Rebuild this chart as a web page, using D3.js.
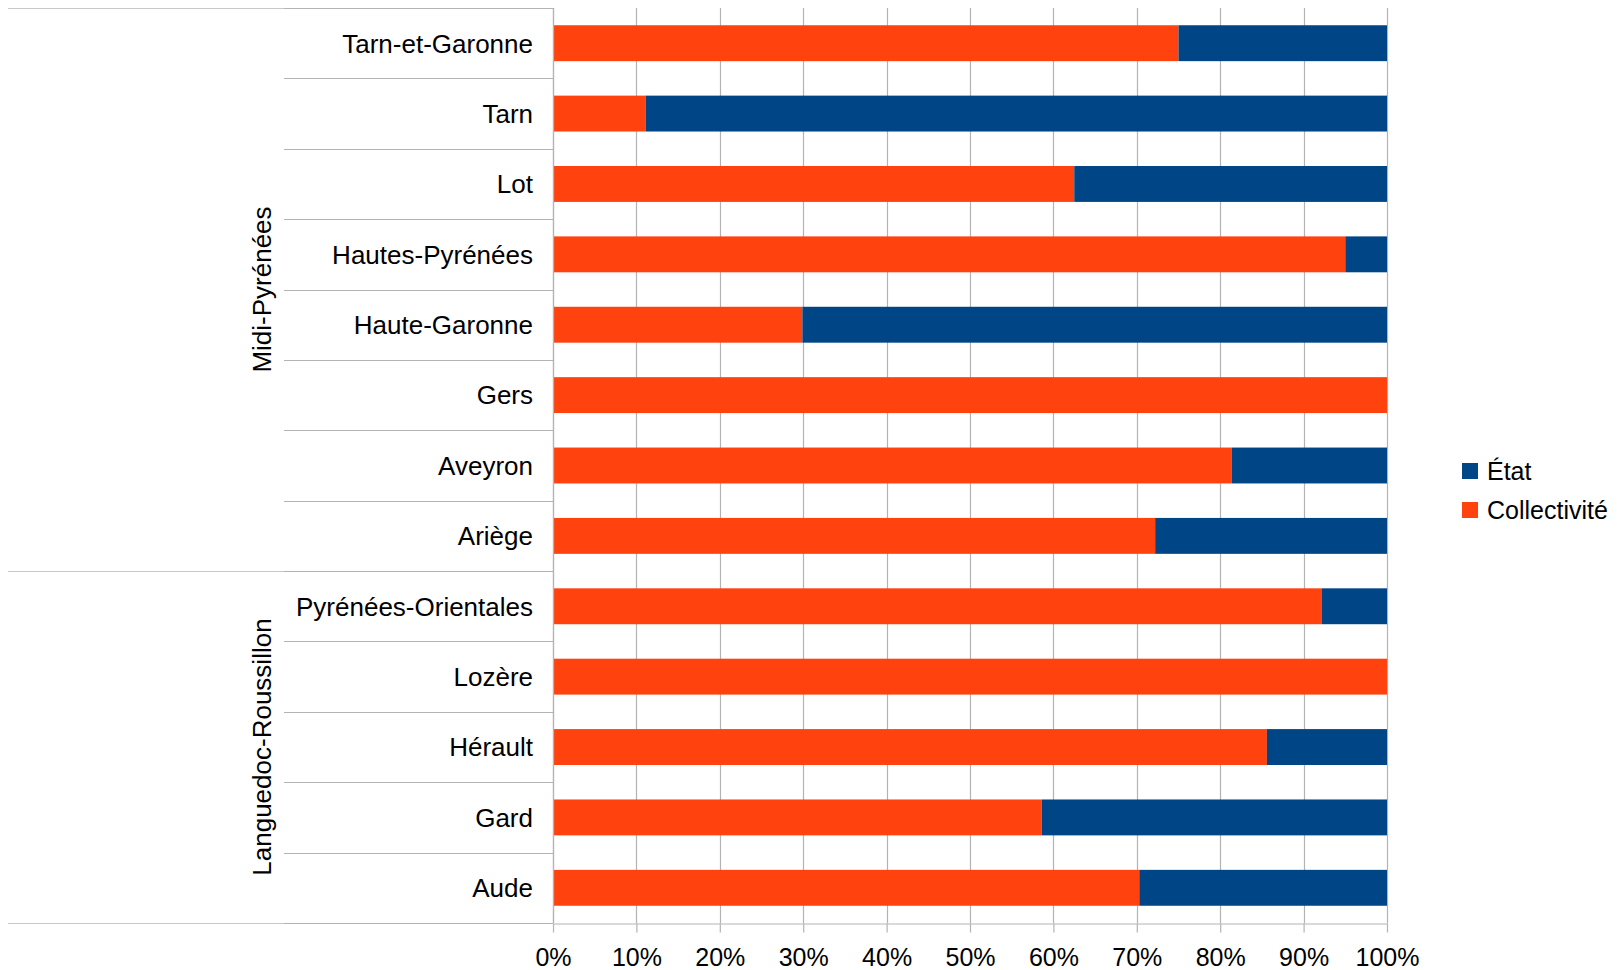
<!DOCTYPE html>
<html>
<head>
<meta charset="utf-8">
<script src="https://cdn.jsdelivr.net/npm/d3@7"></script>
<style>
  html, body { margin: 0; padding: 0; background: #fff; }
  svg { display: block; font-family: "Liberation Sans", Arial, sans-serif; }
</style>
</head>
<body>
<svg id="chart" width="1620" height="970"></svg>
<script>
// Départements, top to bottom
const departements = [
  "Tarn-et-Garonne", "Tarn", "Lot", "Hautes-Pyrénées", "Haute-Garonne",
  "Gers", "Aveyron", "Ariège",
  "Pyrénées-Orientales", "Lozère", "Hérault", "Gard", "Aude"
];
// Region of each département
const regions = [
  "Midi-Pyrénées", "Midi-Pyrénées", "Midi-Pyrénées", "Midi-Pyrénées", "Midi-Pyrénées",
  "Midi-Pyrénées", "Midi-Pyrénées", "Midi-Pyrénées",
  "Languedoc-Roussillon", "Languedoc-Roussillon", "Languedoc-Roussillon",
  "Languedoc-Roussillon", "Languedoc-Roussillon"
];
// Share (%) held by the collectivité; the État holds the rest
const collectivite = [75.0, 11.1, 62.5, 95.0, 29.9, 100, 81.4, 72.2, 92.2, 100, 85.6, 58.6, 70.3];
const etat = collectivite.map(v => 100 - v);
const seriesNames = ["État", "Collectivité"];
const seriesColors = ["#004586", "#ff420e"];
const xTicks = [0, 10, 20, 30, 40, 50, 60, 70, 80, 90, 100];

(function draw() {
  const svg = d3.select("#chart");
  const plotLeft = 553, plotRight = 1387, plotTop = 8, plotBottom = 923;
  const fontSize = 25;
  const catFontSize = 26;

  const x = d3.scaleLinear().domain([0, 100]).range([plotLeft, plotRight]);
  const y = d3.scaleBand().domain(departements).range([plotTop, plotBottom])
    .paddingInner(0.49).paddingOuter(0.245);
  const step = y.step();

  // Vertical gridlines
  svg.append("g").selectAll("line").data(xTicks).join("line")
    .attr("x1", d => Math.round(x(d)) + 0.5).attr("x2", d => Math.round(x(d)) + 0.5)
    .attr("y1", plotTop).attr("y2", plotBottom)
    .attr("stroke", "#b3b3b3").attr("stroke-width", 1.2);

  // Stacked bars: collectivité first, état after it
  const rows = departements.map((d, i) => ({ name: d, "Collectivité": collectivite[i], "État": etat[i] }));
  const stacked = d3.stack().keys(["Collectivité", "État"])(rows);
  const colorOf = { "Collectivité": seriesColors[1], "État": seriesColors[0] };

  svg.append("g").selectAll("g").data(stacked).join("g")
    .attr("fill", s => colorOf[s.key])
    .selectAll("rect").data(s => s).join("rect")
    .attr("x", d => x(d[0]))
    .attr("width", d => Math.max(0, x(d[1]) - x(d[0])))
    .attr("y", d => y(d.data.name))
    .attr("height", y.bandwidth());

  // Département separators
  const boundaries = d3.range(departements.length + 1).map(i => plotTop + i * step);
  const regionStarts = [0];
  regions.forEach((r, i) => { if (i > 0 && r !== regions[i - 1]) regionStarts.push(i); });
  regionStarts.push(departements.length);

  svg.append("g").selectAll("line").data(boundaries).join("line")
    .attr("x1", 284).attr("x2", plotLeft)
    .attr("y1", d => Math.round(d) + 0.5).attr("y2", d => Math.round(d) + 0.5)
    .attr("stroke", "#b3b3b3").attr("stroke-width", 1.2);

  // Region separators
  svg.append("g").selectAll("line").data(regionStarts).join("line")
    .attr("x1", 8).attr("x2", 284)
    .attr("y1", i => Math.round(plotTop + i * step) + 0.5)
    .attr("y2", i => Math.round(plotTop + i * step) + 0.5)
    .attr("stroke", "#c8c8c8").attr("stroke-width", 1.2);

  // Y axis line
  svg.append("line")
    .attr("x1", plotLeft + 0.5).attr("x2", plotLeft + 0.5)
    .attr("y1", plotTop).attr("y2", plotBottom)
    .attr("stroke", "#b3b3b3").attr("stroke-width", 1.2);

  // X axis
  const xAxis = d3.axisBottom(x).tickValues(xTicks).tickFormat(d => d + "%")
    .tickSizeInner(9).tickSizeOuter(0).tickPadding(16);
  const gx = svg.append("g").attr("transform", `translate(0,${plotBottom + 0.5})`).call(xAxis);
  gx.select(".domain").attr("stroke", "#b3b3b3").attr("stroke-width", 1.2);
  gx.selectAll(".tick line").attr("stroke", "#b3b3b3").attr("stroke-width", 1.2);
  gx.selectAll(".tick text").attr("font-size", fontSize).attr("fill", "#000")
    .attr("font-family", "Liberation Sans, Arial, sans-serif");

  // Département labels
  svg.append("g").selectAll("text").data(departements).join("text")
    .attr("x", 533).attr("y", d => y(d) + y.bandwidth() / 2)
    .attr("dy", "0.36em").attr("text-anchor", "end")
    .attr("font-size", catFontSize).attr("fill", "#000")
    .text(d => d);

  // Region labels (rotated)
  const regionGroups = regionStarts.slice(0, -1).map((s, k) => ({
    name: regions[s], from: s, to: regionStarts[k + 1]
  }));
  svg.append("g").selectAll("text").data(regionGroups).join("text")
    .attr("transform", g => `translate(271,${plotTop + (g.from + g.to) / 2 * step}) rotate(-90)`)
    .attr("text-anchor", "middle")
    .attr("font-size", catFontSize).attr("fill", "#000")
    .text(g => g.name);

  // Legend
  const legend = svg.append("g").attr("transform", "translate(1462,0)");
  const li = legend.selectAll("g").data(seriesNames).join("g")
    .attr("transform", (d, i) => `translate(0,${463 + i * 39})`);
  li.append("rect").attr("width", 16).attr("height", 16)
    .attr("fill", (d, i) => seriesColors[i]);
  li.append("text").attr("x", 25).attr("y", 17)
    .attr("font-size", fontSize).attr("fill", "#000")
    .text(d => d);
})();
</script>
</body>
</html>
